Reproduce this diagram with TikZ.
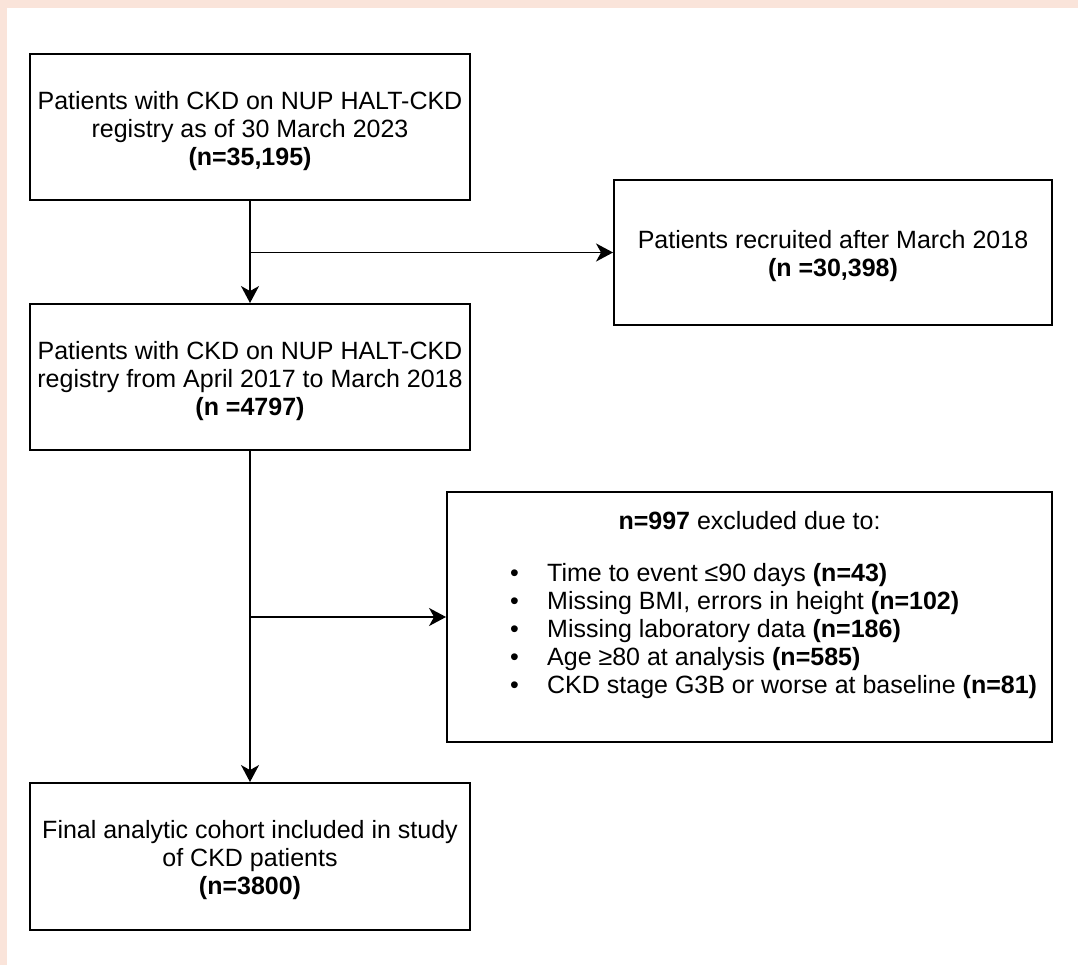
\documentclass[tikz,border=0pt]{standalone}
\usepackage{fontspec}
\setmainfont{Liberation Sans}
\usetikzlibrary{arrows.meta}
\definecolor{pinkbg}{HTML}{FAE4DA}
\begin{document}
\begin{tikzpicture}[x=1pt,y=-1pt,
  box/.style={draw=black,line width=1.9pt,inner sep=0pt},
  arr/.style={line width=1.9pt,-{Stealth[length=17pt,width=18pt,inset=5pt]}},
  txt/.style={inner sep=0pt,align=center,font=\fontsize{25}{28}\selectfont}]
\useasboundingbox (0,0) rectangle (1078,965);
\fill[pinkbg] (0,0) rectangle (1078,965);
\fill[white] (7,8) rectangle (1078,965);
\node[box,minimum width=440pt,minimum height=146pt] (b1) at (250,127) {};
\node[box,minimum width=438pt,minimum height=145pt] (b2) at (833,252.5) {};
\node[box,minimum width=440pt,minimum height=146pt] (b3) at (250,377) {};
\node[box,minimum width=605pt,minimum height=250pt] (b4) at (749.5,617) {};
\node[box,minimum width=440pt,minimum height=147pt] (b5) at (250,856.5) {};
\node[txt] (t1) at ([yshift=-4pt]b1.center)
  {Patients with CKD on NUP HALT-CKD\\registry as of 30 March 2023\\\textbf{(n=35,195)}};
\node[txt] (t2) at ([yshift=-4pt]b2.center)
  {Patients recruited after March 2018\\\textbf{(n =30,398)}};
\node[txt] (t3) at ([yshift=-4pt]b3.center)
  {Patients with CKD on NUP HALT-CKD\\registry from April 2017 to March 2018\\\textbf{(n =4797)}};
\node[txt] (t5) at ([yshift=-4pt]b5.center)
  {Final analytic cohort included in study\\of CKD patients\\\textbf{(n=3800)}};
\node[txt] (h4) at (749.5,521) {\textbf{n=997} excluded due to:};
\node[txt,anchor=west,align=left] (l4) at (510,631)
  {\makebox[37pt][l]{•}Time to event ≤90 days \textbf{(n=43)}\\
   \makebox[37pt][l]{•}Missing BMI, errors in height \textbf{(n=102)}\\
   \makebox[37pt][l]{•}Missing laboratory data \textbf{(n=186)}\\
   \makebox[37pt][l]{•}Age ≥80 at analysis \textbf{(n=585)}\\
   \makebox[37pt][l]{•}CKD stage G3B or worse at baseline \textbf{(n=81)}};
\coordinate (j1) at (250,252.5);
\coordinate (j2) at (250,617);
\draw[arr] (b1.south) -- (b3.north);
\draw[arr] (j1) -- (b2.west);
\draw[arr] (b3.south) -- (b5.north);
\draw[arr] (j2) -- (b4.west);
\end{tikzpicture}
\end{document}
